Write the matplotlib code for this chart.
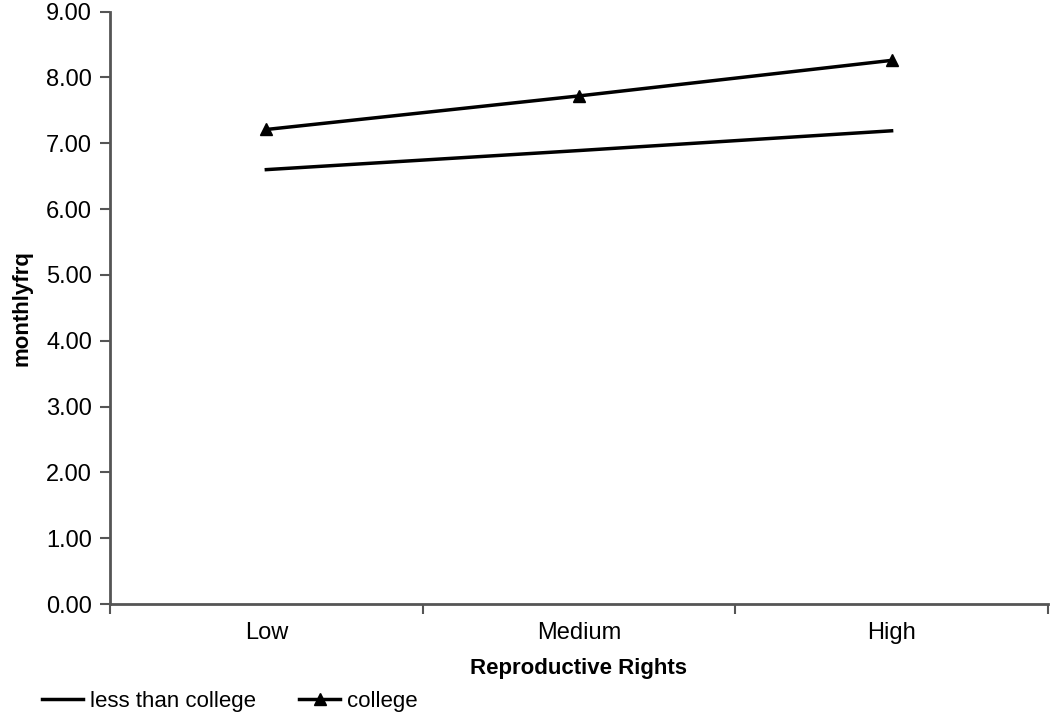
import numpy as np
import matplotlib.pyplot as plt

# values
categories = ['Low', 'Medium', 'High']
less_than_college = [6.60, 6.89, 7.19]
college = [7.21, 7.72, 8.26]
y_ticks = [0, 1, 2, 3, 4, 5, 6, 7, 8, 9]

plt.rcParams['font.family'] = ['Liberation Sans', 'DejaVu Sans']

fig = plt.figure(figsize=(10.5, 7.16), dpi=100)
ax = fig.add_axes([0.1048, 0.1564, 0.8932, 0.8273])

x = np.arange(len(categories))
ax.plot(x, less_than_college, color='black', lw=2.5, label='less than college')
ax.plot(x, college, color='black', lw=2.5, marker='^', markersize=9,
        label='college')

ax.set_xlim(-0.5, len(categories) - 0.5)
ax.set_ylim(0, 9)
ax.set_yticks(y_ticks)
ax.set_yticklabels(['%.2f' % v for v in y_ticks])
ax.set_xticks(x)
ax.set_xticklabels(categories)
ax.set_xticks(np.arange(-0.5, len(categories)), minor=True)
ax.tick_params(axis='x', which='major', length=0, pad=13, labelsize=17)
ax.tick_params(axis='x', which='minor', length=7, width=1.5, color='#555555')
ax.tick_params(axis='y', length=7, width=1.5, color='#555555', labelsize=17, pad=6)

for s in ['top', 'right']:
    ax.spines[s].set_visible(False)
for s in ['left', 'bottom']:
    ax.spines[s].set_color('#555555')
    ax.spines[s].set_linewidth(2)

ax.set_xlabel('Reproductive Rights', fontsize=16, fontweight='bold', labelpad=10)
ax.set_ylabel('monthlyfrq', fontsize=16, fontweight='bold', labelpad=10)

fig.legend(loc='lower left', bbox_to_anchor=(0.036, 0.0), ncol=2, frameon=False,
           fontsize=16, handlelength=1.85, handletextpad=0.3, columnspacing=1.95,
           borderpad=0.2, borderaxespad=0)

fig.savefig('out.png', dpi=100)
